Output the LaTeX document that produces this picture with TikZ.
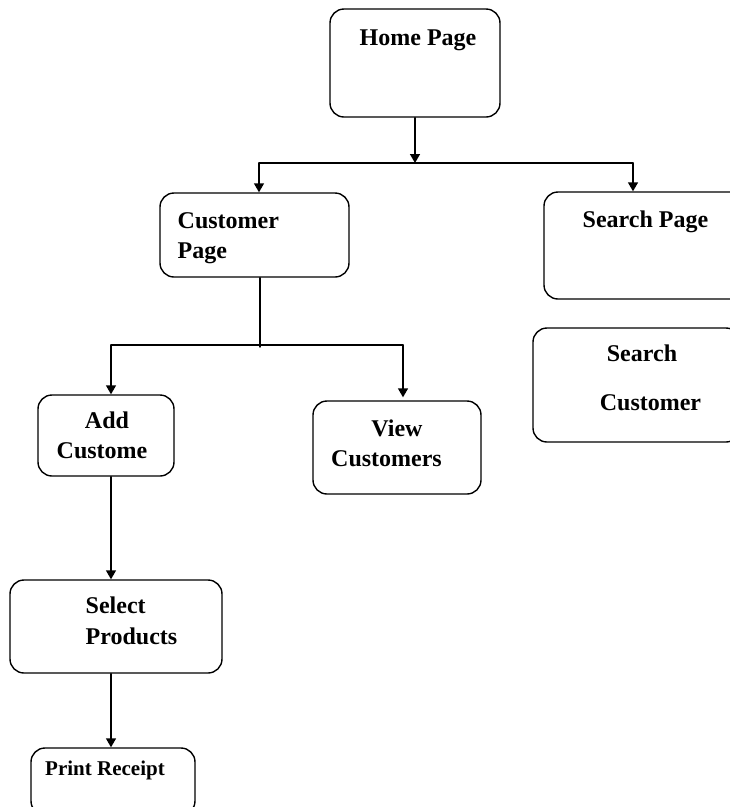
\documentclass[tikz,border=0pt]{standalone}
\usepackage{fontspec}
\setmainfont{Liberation Serif}
\usetikzlibrary{arrows.meta,positioning,calc}
\tikzset{
  pagebox/.style={draw,rounded corners=14pt,line width=1.4pt,inner sep=0pt},
  lbl/.style={font=\fontsize{24}{29}\selectfont\bfseries,inner sep=0pt},
  arr/.style={-{Triangle[length=9pt,width=10pt]}},
}
\tikzstyle{every path}=[line width=1.4pt,line cap=round,line join=round]

\begin{document}
\begin{tikzpicture}[x=1pt,y=-1pt]
  \useasboundingbox (0,0) rectangle (730,807);
  % boxes
  \node[pagebox,minimum width=170pt,minimum height=108pt] (home)   at (415,63) {};
  \node[pagebox,minimum width=189pt,minimum height=84pt]  (cust)   at (254.5,235) {};
  \node[pagebox,minimum width=201pt,minimum height=107pt] (search) at (644.5,245.5) {};
  \node[pagebox,minimum width=207pt,minimum height=114pt] (scust)  at (636.5,385) {};
  \node[pagebox,minimum width=136pt,minimum height=81pt]  (add)    at (106,435.5) {};
  \node[pagebox,minimum width=168pt,minimum height=93pt]  (view)   at (397,447.5) {};
  \node[pagebox,minimum width=212pt,minimum height=93pt]  (select) at (116,626.5) {};
  \node[pagebox,minimum width=164pt,minimum height=67pt]  (print)  at (113,781.5) {};
  % texts
  \node[lbl,anchor=base] (home-t) at (418,45) {Home Page};
  \node[lbl,anchor=base west] (cust-t1) at (177,228) {Customer};
  \node[lbl,anchor=base west] (cust-t2) at (177,258) {Page};
  \node[lbl,anchor=base] (search-t) at (645.5,227) {Search Page};
  \node[lbl,anchor=base] (scust-t1) at (642,361) {Search};
  \node[lbl,anchor=base] (scust-t2) at (650.5,410) {Customer};
  \node[lbl,anchor=base] (add-t1) at (107,428) {Add};
  \node[lbl,anchor=base] (add-t2) at (102,458) {Custome};
  \node[lbl,anchor=base] (view-t1) at (397,436) {View};
  \node[lbl,anchor=base] (view-t2) at (386.5,466) {Customers};
  \node[lbl,anchor=base west] (select-t1) at (85,613) {Select};
  \node[lbl,anchor=base west] (select-t2) at (85,644) {Products};
  \node[lbl,font=\fontsize{21}{25}\selectfont\bfseries,anchor=base] (print-t) at (105,775) {Print Receipt};
  % connectors
  \coordinate (hub1) at (415,163);
  \coordinate (l1) at (259,163);
  \coordinate (r1) at (633,163);
  \coordinate (hub2) at (260,347);
  \coordinate (l2) at (111,345);
  \coordinate (r2) at (403,345);
  \draw[arr] (home.south) -- (hub1);
  \draw (l1) -- (r1);
  \draw[arr] (l1) -- (l1 |- cust.north);
  \draw[arr] (r1) -- (r1 |- search.north);
  \draw (hub2 |- cust.south) -- (hub2);
  \draw (l2) -- (r2);
  \draw[arr] (l2) -- (l2 |- add.north);
  \draw[arr] (r2) -- ($(r2 |- view.north)+(0,-3)$);
  \draw[arr] (l2 |- add.south) -- (l2 |- select.north);
  \draw[arr] (l2 |- select.south) -- (l2 |- print.north);
\end{tikzpicture}
\end{document}
